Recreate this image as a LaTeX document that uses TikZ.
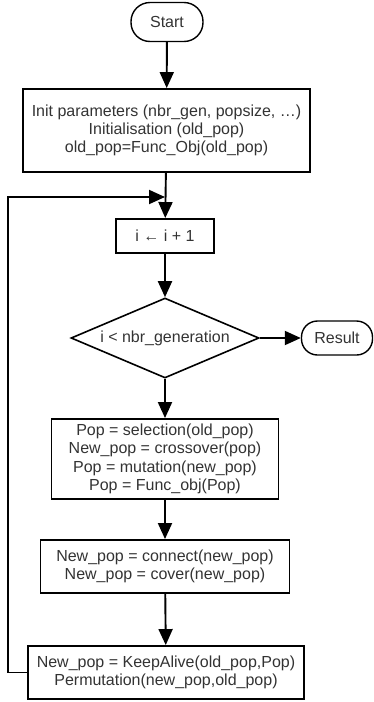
\documentclass[tikz,border=0pt]{standalone}
\usepackage{fontspec}
\setmainfont{Liberation Sans}
\usetikzlibrary{arrows.meta,shapes.geometric}
\definecolor{txtgrey}{HTML}{333333}
\tikzset{flow/.style={line width=1.9pt,-{Triangle[length=16pt,width=14pt]}}}
\tikzset{term/.style={draw=black,line width=1.4pt,text=txtgrey,inner sep=0pt}}
\tikzset{proc/.style={rectangle,draw=black,line width=1.9pt,text=txtgrey,align=center,inner sep=0pt}}
\tikzset{test/.style={diamond,aspect=2.35,draw=black,line width=1.6pt,text=txtgrey,inner sep=0pt}}

\begin{document}
\begin{tikzpicture}[x=1pt,y=-1pt,font=\fontsize{16}{18.3}\selectfont]
\useasboundingbox (0,0) rectangle (373,702);
\node (start) at (167,22) [term,minimum width=72pt,minimum height=39pt,rounded corners=19pt] {Start};
\node (init) at (166.5,130.5) [proc,minimum width=287pt,minimum height=83pt] {Init parameters (nbr\_gen, popsize, …)\\Initialisation (old\_pop)\\old\_pop=Func\_Obj(old\_pop)};
\node (incr) at (165,236) [proc,minimum width=98pt,minimum height=34pt] {i ← i + 1};
\node (cond) at (165,338) [test,minimum width=188pt,minimum height=80pt] {i < nbr\_generation};
\node (result) at (337,338) [term,minimum width=71pt,minimum height=34pt,rounded corners=16pt] {Result};
\node (pop) at (165,459) [proc,minimum width=227pt,minimum height=80pt] {Pop = selection(old\_pop)\\New\_pop = crossover(pop)\\Pop = mutation(new\_pop)\\Pop = Func\_obj(Pop)};
\node (conn) at (165,566.5) [proc,minimum width=249pt,minimum height=53pt] {New\_pop = connect(new\_pop)\\New\_pop = cover(new\_pop)};
\node (keep) at (166,672.5) [proc,minimum width=276pt,minimum height=53pt] {New\_pop = KeepAlive(old\_pop,Pop)\\Permutation(new\_pop,old\_pop)};
\coordinate (corner) at (8,197);
\coordinate (join) at (165,197);
\draw[flow] (start) -- (init);
\draw[flow] (init) -- (incr);
\draw[flow] (incr) -- (cond);
\draw[flow] (cond) -- (result);
\draw[flow] (cond) -- (pop);
\draw[flow] (pop) -- (conn);
\draw[flow] (conn) -- (keep);
\draw[flow] (keep.west) -| (corner) -- (join);
\end{tikzpicture}
\end{document}
